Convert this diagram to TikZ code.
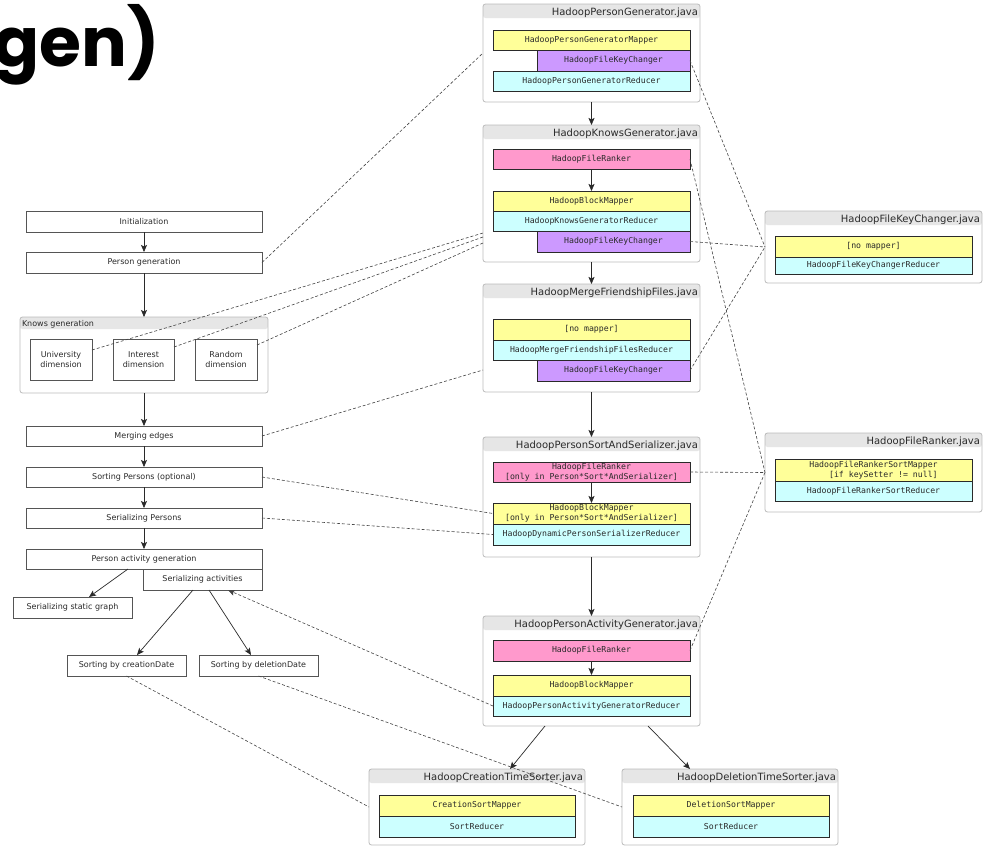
\documentclass[tikz,border=0pt]{standalone}
\usepackage{fontspec}
\setmainfont{DejaVu Sans}
\newfontfamily\codefont{DejaVu Sans Mono}
\newfontfamily\headfont{Poppins}
\usetikzlibrary{arrows.meta,calc}

\definecolor{mapyellow}{HTML}{FFFF99}
\definecolor{keypurple}{HTML}{CC99FF}
\definecolor{rankpink}{HTML}{FF99CC}
\definecolor{redcyan}{HTML}{CCFFFF}
\definecolor{hdrgray}{HTML}{E6E6E6}
\definecolor{framegray}{HTML}{BBBBBB}
\definecolor{flowgray}{HTML}{555555}
\definecolor{ink}{HTML}{2A2A2A}
\definecolor{dashgray}{HTML}{444444}

\tikzset{
  every node/.style={inner sep=0pt, outer sep=0pt},
  sz/.style n args={2}{anchor=north west, minimum width=#1pt, minimum height=#2pt},
  classbox/.style={draw=framegray, line width=0.8pt, rounded corners=2.5pt, fill=white,
    path picture={\fill[hdrgray] (path picture bounding box.north west)
      rectangle ([yshift=-#1pt]path picture bounding box.north east);}},
  classbox/.default=14,
  hdrtext/.style={anchor=base east, font=\fontsize{10}{12}\selectfont, text=ink},
  bar/.style={draw=ink, line width=0.8pt, text=ink, align=center,
    font=\codefont\fontsize{8.2}{9.6}\selectfont},
  mapperbar/.style={bar, fill=mapyellow},
  keybar/.style={bar, fill=keypurple},
  rankbar/.style={bar, fill=rankpink},
  reducerbar/.style={bar, fill=redcyan},
  flowbox/.style={draw=flowgray, line width=0.8pt, fill=white, text=ink, align=center,
    font=\fontsize{8}{9.6}\selectfont},
  flow/.style={draw=ink, line width=0.7pt, -{Stealth[length=7pt,width=6pt,inset=1.5pt]}},
  link/.style={draw=dashgray, line width=0.6pt, dash pattern=on 3pt off 2pt},
  linkarrow/.style={link, -{Stealth[length=7pt,width=6pt,inset=1.5pt]}},
}

\begin{document}
\begin{tikzpicture}[x=1pt, y=-1pt]
\fill[white] (0,0) rectangle (986,846);
\useasboundingbox (0,0) rectangle (986,846);

% heading fragment
\node[anchor=base east, font=\headfont\bfseries\fontsize{68}{68}\selectfont, text=black]
  (heading) at (160,66) {gen)};

% ---------- job classes (centre column) ----------
\node[classbox, sz={217}{98}] (pg) at (483,4) {};
\node[hdrtext] (pgT) at ([xshift=-2pt,yshift=-11.5pt]pg.north east) {HadoopPersonGenerator.java};
\node[mapperbar, sz={197}{20}] (pgM) at (493,30) {HadoopPersonGeneratorMapper};
\node[keybar, sz={153}{21}] (pgK) at (537,50) {HadoopFileKeyChanger};
\node[reducerbar, sz={197}{20}] (pgR) at (493,71) {HadoopPersonGeneratorReducer};

\node[classbox, sz={217}{137}] (kg) at (483,125) {};
\node[hdrtext] (kgT) at ([xshift=-2pt,yshift=-11.5pt]kg.north east) {HadoopKnowsGenerator.java};
\node[rankbar, sz={197}{20}] (kgF) at (493,149) {HadoopFileRanker};
\node[mapperbar, sz={197}{20}] (kgM) at (493,191) {HadoopBlockMapper};
\node[reducerbar, sz={197}{20}] (kgR) at (493,211) {HadoopKnowsGeneratorReducer};
\node[keybar, sz={153}{21}] (kgK) at (537,231) {HadoopFileKeyChanger};

\node[classbox, sz={217}{108}] (mf) at (483,284) {};
\node[hdrtext] (mfT) at ([xshift=-2pt,yshift=-11.5pt]mf.north east) {HadoopMergeFriendshipFiles.java};
\node[mapperbar, sz={197}{21}] (mfM) at (493,319) {{[no mapper]}};
\node[reducerbar, sz={197}{20}] (mfR) at (493,340) {HadoopMergeFriendshipFilesReducer};
\node[keybar, sz={153}{21}] (mfK) at (537,360) {HadoopFileKeyChanger};

\node[classbox, sz={217}{120}] (ps) at (483,437) {};
\node[hdrtext] (psT) at ([xshift=-2pt,yshift=-11.5pt]ps.north east) {HadoopPersonSortAndSerializer.java};
\node[rankbar, sz={197}{20}] (psF) at (493,462) {HadoopFileRanker\\{}[only in Person*Sort*AndSerializer]};
\node[mapperbar, sz={197}{21}] (psM) at (493,503) {HadoopBlockMapper\\{}[only in Person*Sort*AndSerializer]};
\node[reducerbar, sz={197}{21}] (psR) at (493,524) {HadoopDynamicPersonSerializerReducer};

\node[classbox, sz={217}{110}] (pa) at (483,616) {};
\node[hdrtext] (paT) at ([xshift=-2pt,yshift=-11.5pt]pa.north east) {HadoopPersonActivityGenerator.java};
\node[rankbar, sz={197}{21}] (paF) at (493,640) {HadoopFileRanker};
\node[mapperbar, sz={197}{21}] (paM) at (493,675) {HadoopBlockMapper};
\node[reducerbar, sz={197}{20}] (paR) at (493,696) {HadoopPersonActivityGeneratorReducer};

% ---------- helper classes (right column) ----------
\node[classbox, sz={217}{72}] (kc) at (765,211) {};
\node[hdrtext] (kcT) at ([xshift=-2pt,yshift=-11.5pt]kc.north east) {HadoopFileKeyChanger.java};
\node[mapperbar, sz={197}{21}] (kcM) at (775,236) {{[no mapper]}};
\node[reducerbar, sz={197}{17}] (kcR) at (775,257) {HadoopFileKeyChangerReducer};

\node[classbox, sz={217}{79}] (fr) at (765,433) {};
\node[hdrtext] (frT) at ([xshift=-2pt,yshift=-11.5pt]fr.north east) {HadoopFileRanker.java};
\node[mapperbar, sz={197}{22}] (frM) at (775,459) {HadoopFileRankerSortMapper\\\hphantom{0000}[if keySetter != null]};
\node[reducerbar, sz={197}{20}] (frR) at (775,481) {HadoopFileRankerSortReducer};

% ---------- sorters (bottom row) ----------
\node[classbox, sz={216}{76}] (ct) at (369,769) {};
\node[hdrtext] (ctT) at ([xshift=-2pt,yshift=-11.5pt]ct.north east) {HadoopCreationTimeSorter.java};
\node[mapperbar, sz={196}{21}] (ctM) at (379,795) {CreationSortMapper};
\node[reducerbar, sz={196}{21}] (ctR) at (379,816) {SortReducer};

\node[classbox, sz={216}{76}] (dt) at (622,769) {};
\node[hdrtext] (dtT) at ([xshift=-2pt,yshift=-11.5pt]dt.north east) {HadoopDeletionTimeSorter.java};
\node[mapperbar, sz={196}{21}] (dtM) at (633,795) {DeletionSortMapper};
\node[reducerbar, sz={196}{21}] (dtR) at (633,816) {SortReducer};

% ---------- generation steps (left column) ----------
\node[flowbox, sz={236}{21}] (init) at (26,211) {Initialization};
\node[flowbox, sz={236}{21}] (pgen) at (26,252) {Person generation};

\node[classbox=12, sz={248}{76}] (kn) at (20,317) {};
\node[anchor=base west, font=\fontsize{8}{9.6}\selectfont, text=ink] (knT) at (22,326) {Knows generation};
\node[flowbox, sz={62}{41}] (univ) at (30,339) {University\\dimension};
\node[flowbox, sz={61}{41}] (intr) at (113,339) {Interest\\dimension};
\node[flowbox, sz={62}{41}] (rand) at (195,339) {Random\\dimension};

\node[flowbox, sz={236}{20}] (merge) at (26,426) {Merging edges};
\node[flowbox, sz={236}{20}] (sortp) at (26,467) {Sorting Persons (optional)};
\node[flowbox, sz={236}{20}] (serp) at (26,508) {Serializing Persons};
\node[flowbox, sz={236}{20}] (pact) at (26,549) {Person activity generation};
\node[flowbox, sz={119}{21}] (sera) at (143,569) {Serializing activities};
\node[flowbox, sz={119}{21}] (ssg) at (13,597) {Serializing static graph};
\node[flowbox, sz={119}{21}] (sortc) at (67,655) {Sorting by creationDate};
\node[flowbox, sz={119}{21}] (sortd) at (199,655) {Sorting by deletionDate};

% ---------- control flow ----------
\draw[flow] (init) -- (pgen);
\draw[flow] (pgen) -- (kn);
\draw[flow] (kn) -- (merge);
\draw[flow] (merge) -- (sortp);
\draw[flow] (sortp) -- (serp);
\draw[flow] (serp) -- (pact);
\draw[flow] ([xshift=-16pt]pact.south) -- ([xshift=16.5pt]ssg.north);
\draw[flow] ([xshift=-9.5pt]sera.south) -- ([xshift=10.5pt]sortc.north);
\draw[flow] ([xshift=6.5pt]sera.south) -- ([xshift=-7.5pt]sortd.north);

\draw[flow] (pg) -- (kg);
\draw[flow] (kgF) -- (kgM);
\draw[flow] (kg) -- (mf);
\draw[flow] (mf) -- (ps);
\draw[flow] (psF) -- (psM);
\draw[flow] (ps) -- (pa);
\draw[flow] (paF) -- (paM);
\draw[flow] ([xshift=-46.5pt]pa.south) -- ([xshift=33pt]ct.north);
\draw[flow] ([xshift=56.5pt]pa.south) -- ([xshift=-40pt]dt.north);

% ---------- step-to-class links ----------
\draw[link] (pgen.east) -- (pg.west);
\draw[link] ([yshift=9.5pt]univ.east) -- ([yshift=-39.5pt]kg.west);
\draw[link] ([yshift=12.5pt]intr.east) -- ([yshift=-43.5pt]kg.west);
\draw[link] ([yshift=14.5pt]rand.east) -- ([yshift=-49.5pt]kg.west);
\draw[link] (merge.east) -- ([yshift=-32pt]mf.west);
\draw[link] (sortp.east) -- (psM.west);
\draw[link] (serp.east) -- (psR.west);
\draw[linkarrow] (paR.west) -- ([xshift=25.5pt]sera.south);
\draw[link] (sortc.south) -- (ct.west);
\draw[link] (sortd.south) -- (dt.west);

% ---------- class-to-helper links ----------
\draw[link] (pgK.east) -- (kc.west);
\draw[link] (kgK.east) -- (kc.west);
\draw[link] (mfK.east) -- (kc.west);
\draw[link] (kgF.east) -- (fr.west);
\draw[link] (psF.east) -- (fr.west);
\draw[link] (paF.east) -- (fr.west);
\end{tikzpicture}
\end{document}
